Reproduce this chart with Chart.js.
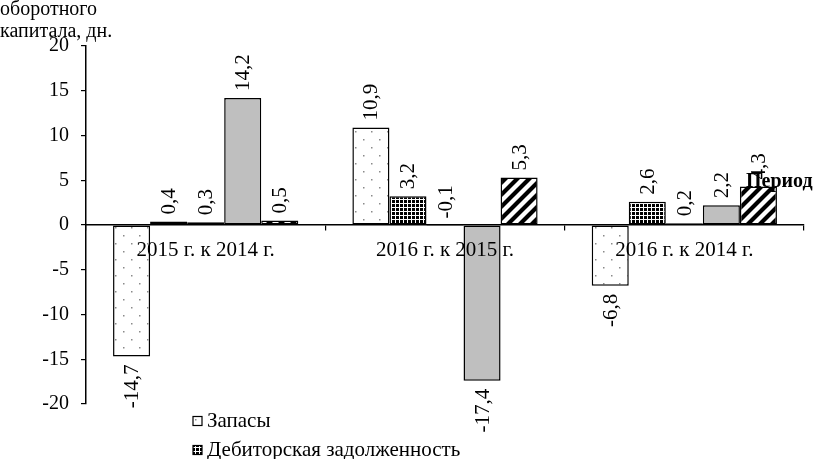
<!DOCTYPE html>
<html>
<head>
<meta charset="utf-8">
<script src="https://cdn.jsdelivr.net/npm/chart.js@4.4.1/dist/chart.umd.min.js"></script>
<style>
html,body{margin:0;padding:0;background:#fff;}
#wrap{width:816px;height:459px;position:relative;}
</style>
</head>
<body>
<div id="wrap"><canvas id="c" width="816" height="459"></canvas></div>
<script>
const categories = ['2015 г. к 2014 г.', '2016 г. к 2015 г.', '2016 г. к 2014 г.'];
const seriesNames = ['Запасы', 'Дебиторская задолженность', 'Ряд 3', 'Ряд 4', 'Ряд 5'];
const zapasy = [-14.7, 10.9, -6.8];
const debitor = [0.4, 3.2, 2.6];
const series3 = [0.3, -0.1, 0.2];
const series4 = [14.2, -17.4, 2.2];
const series5 = [0.5, 5.3, 4.3];
const yTicks = [-20, -15, -10, -5, 0, 5, 10, 15, 20];
const yTitleLines = ['оборотного', 'капитала, дн.'];
const xTitle = 'Период';

const FONT = "'Liberation Serif', 'Times New Roman', serif";

function makeTile(w, h, draw) {
  const c = document.createElement('canvas');
  c.width = w; c.height = h;
  const g = c.getContext('2d');
  g.fillStyle = '#fff'; g.fillRect(0, 0, w, h);
  draw(g);
  return document.getElementById('c').getContext('2d').createPattern(c, 'repeat');
}
const sparseDots = makeTile(16, 16, g => {
  g.fillStyle = '#8a8a8a';
  g.fillRect(3, 3, 1.5, 1.5);
  g.fillRect(11, 11, 1.5, 1.5);
});
const denseDots = makeTile(4, 4, g => {
  g.fillStyle = '#000';
  g.fillRect(0, 0, 3, 3);
});
const stripes = makeTile(12, 12, g => {
  g.strokeStyle = '#000';
  g.lineWidth = 4.2;
  g.beginPath();
  g.moveTo(-6, 6); g.lineTo(6, -6);
  g.moveTo(0, 12); g.lineTo(12, 0);
  g.moveTo(6, 18); g.lineTo(18, 6);
  g.stroke();
});

const fills = [sparseDots, denseDots, '#000000', '#bfbfbf', stripes];
const values = [zapasy, debitor, series3, series4, series5];

const datasets = values.map((v, i) => ({
  label: seriesNames[i],
  data: v,
  backgroundColor: fills[i],
  borderColor: '#000',
  borderWidth: 1.5,
  borderSkipped: false,
  barPercentage: 1,
  categoryPercentage: 0.774
}));

const fmt = v => v.toFixed(1).replace('.', ',');

const labelPlugin = {
  id: 'labels',
  afterDatasetsDraw(chart) {
    const ctx = chart.ctx;
    ctx.save();
    ctx.font = '21px ' + FONT;
    ctx.fillStyle = '#000';
    ctx.textBaseline = 'middle';
    chart.data.datasets.forEach((ds, i) => {
      const meta = chart.getDatasetMeta(i);
      meta.data.forEach((bar, j) => {
        const v = ds.data[j];
        const above = v >= 0 || Math.abs(v) < 0.5;
        const top = Math.min(bar.y, bar.base);
        const bot = Math.max(bar.y, bar.base);
        ctx.save();
        if (above) {
          ctx.translate(bar.x, top - 7);
          ctx.rotate(-Math.PI / 2);
          ctx.textAlign = 'left';
        } else {
          ctx.translate(bar.x, bot + 8);
          ctx.rotate(-Math.PI / 2);
          ctx.textAlign = 'right';
        }
        ctx.fillText(fmt(v), 0, 1);
        ctx.restore();
      });
    });
    ctx.restore();
  },
  afterDraw(chart) {
    const ctx = chart.ctx;
    ctx.save();
    ctx.fillStyle = '#000';
    ctx.font = '20px ' + FONT;
    ctx.textBaseline = 'middle';
    ctx.textAlign = 'left';
    ctx.fillText(yTitleLines[0], 0, 10);
    ctx.fillText(yTitleLines[1], 0, 32);
    ctx.font = 'bold 20px ' + FONT;
    ctx.fillText(xTitle, 746, 182);
    ctx.font = '21px ' + FONT;
    const rows = [421, 450];
    for (let i = 0; i < 2; i++) {
      const y = rows[i];
      ctx.fillStyle = fills[i];
      ctx.fillRect(193, y - 4.5, 9, 9);
      ctx.strokeStyle = '#000';
      ctx.lineWidth = 1.2;
      ctx.strokeRect(193, y - 4.5, 9, 9);
      ctx.fillStyle = '#000';
      ctx.fillText(seriesNames[i], 207, y);
    }
    ctx.restore();
  }
};

function build() {
  new Chart(document.getElementById('c'), {
    type: 'bar',
    data: { labels: categories, datasets },
    options: {
      responsive: false,
      animation: false,
      devicePixelRatio: 1,
      layout: { padding: { top: 46, right: 12, bottom: 55, left: 0 } },
      plugins: { legend: { display: false }, title: { display: false }, tooltip: { enabled: false } },
      scales: {
        x: {
          position: { y: 0 },
          grid: { drawOnChartArea: false, drawTicks: true, tickLength: 5, color: '#000', lineWidth: 1.2, offset: true, z: 1 },
          border: { display: true, color: '#000', width: 1.5, z: 1 },
          ticks: { color: '#000', font: { family: FONT, size: 21 }, padding: 8, maxRotation: 0, z: 2 }
        },
        y: {
          min: -20, max: 20,
          afterBuildTicks(scale) { scale.ticks = yTicks.map(v => ({ value: v })); },
          afterFit(scale) { scale.width = 86; },
          grid: { drawOnChartArea: false, drawTicks: true, tickLength: 5, color: '#000', lineWidth: 1.2 },
          border: { display: true, color: '#000', width: 1.5 },
          ticks: { color: '#000', font: { family: FONT, size: 20 }, padding: 12, callback: v => String(v) }
        }
      }
    },
    plugins: [labelPlugin]
  });
}

Promise.all([
  document.fonts.load("20px 'Liberation Serif'"),
  document.fonts.load("bold 20px 'Liberation Serif'")
]).then(build, build);
</script>
</body>
</html>
